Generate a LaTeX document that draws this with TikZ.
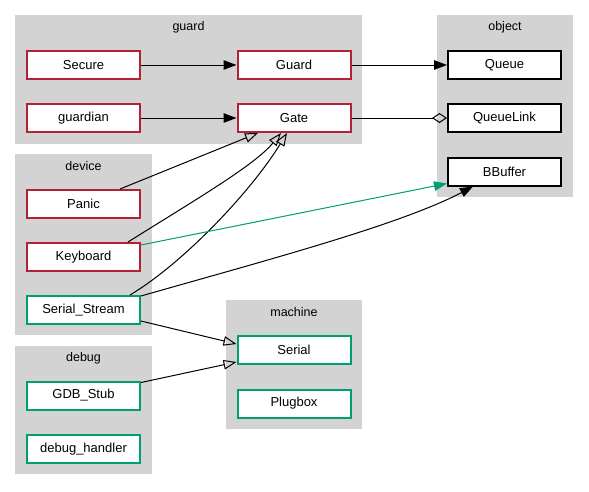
\documentclass[tikz,border=0pt]{standalone}
\usepackage{fontspec}
\setmainfont{Liberation Sans}
\usetikzlibrary{arrows.meta,calc}
\definecolor{redb}{HTML}{B22234}
\definecolor{greenb}{HTML}{009E73}
\definecolor{clus}{HTML}{D3D3D3}
\tikzset{
  box/.style={draw=#1,fill=white,line width=2pt,minimum width=113pt,minimum height=28pt,inner sep=0pt,font=\fontsize{13}{15}\selectfont},
  cluster/.style={fill=clus,draw=none},
  clabel/.style={font=\fontsize{12.5}{14}\selectfont},
  edge/.style={draw=black,line width=1pt},
  filled/.style={-{Triangle[length=13pt,width=9.5pt]}},
  hollow/.style={-{Triangle[open,length=13pt,width=9.5pt]}},
  odiam/.style={-{Diamond[open,length=15pt,width=10pt]}},
}
\begin{document}
\begin{tikzpicture}[x=1pt,y=-1pt]
\fill[white] (0,0) rectangle (589,491);
\useasboundingbox (0,0) rectangle (589,491);
% clusters
\fill[cluster] (15,15) rectangle (362,144);
\node[clabel] (lguard) at (188.5,27) {guard};
\fill[cluster] (437,15) rectangle (573,197);
\node[clabel] (lobject) at (505,27) {object};
\fill[cluster] (15,154) rectangle (152,335);
\node[clabel] (ldevice) at (83.5,166) {device};
\fill[cluster] (15,346) rectangle (152,474);
\node[clabel] (ldebug) at (83.5,358) {debug};
\fill[cluster] (226,300) rectangle (362,429);
\node[clabel] (lmachine) at (294,312) {machine};
% nodes
\node[box=redb] (Secure) at (83.5,65) {Secure};
\node[box=redb] (Guard) at (294,65) {Guard};
\node[box=redb] (guardian) at (83.5,118) {guardian};
\node[box=redb] (Gate) at (294,118) {Gate};
\node[box=black] (Queue) at (504.5,65) {Queue};
\node[box=black] (QueueLink) at (504.5,118) {QueueLink};
\node[box=black] (BBuffer) at (504.5,171.5) {BBuffer};
\node[box=redb] (Panic) at (83.5,204) {Panic};
\node[box=redb] (Keyboard) at (83.5,257) {Keyboard};
\node[box=greenb] (SerialStream) at (83.5,310) {Serial\_Stream};
\node[box=greenb] (GDBStub) at (83.5,395.5) {GDB\_Stub};
\node[box=greenb] (debughandler) at (83.5,449) {debug\_handler};
\node[box=greenb] (Serial) at (294,350) {Serial};
\node[box=greenb] (Plugbox) at (294,403.5) {Plugbox};
% edges
\draw[edge,filled] (Secure.east) -- (Guard.west);
\draw[edge,filled] (guardian.east) -- (Gate.west);
\draw[edge,filled] (Guard.east) -- (Queue.west);
\draw[edge,odiam] (Gate.east) -- (QueueLink.west);
\draw[edge,hollow] ($(Panic.north)+(36.5,0)$) -- ($(Gate.south)+(-36,0)$);
\draw[edge,hollow] ($(Keyboard.north)+(44.5,0)$) .. controls (195,200) and (255,165) .. ($(Gate.south)+(-13,0)$);
\draw[edge,hollow] ($(SerialStream.north)+(46.5,0)$) .. controls (185,262) and (252,190) .. ($(Gate.south)+(-7,0)$);
\draw[edge,draw=greenb,-{Triangle[length=13pt,width=9.5pt]},greenb] ($(Keyboard.north east)+(0,3)$) -- ($(BBuffer.south west)+(0,-3)$);
\draw[edge,filled] ($(SerialStream.north east)+(0,1)$) .. controls (260,262) and (400,225) .. ($(BBuffer.south west)+(26,0)$);
\draw[edge,hollow] ($(SerialStream.east)+(0,11)$) -- ($(Serial.west)+(0,-6)$);
\draw[edge,hollow] ($(GDBStub.north east)+(0,2)$) -- ($(Serial.west)+(0,12)$);
\end{tikzpicture}
\end{document}
